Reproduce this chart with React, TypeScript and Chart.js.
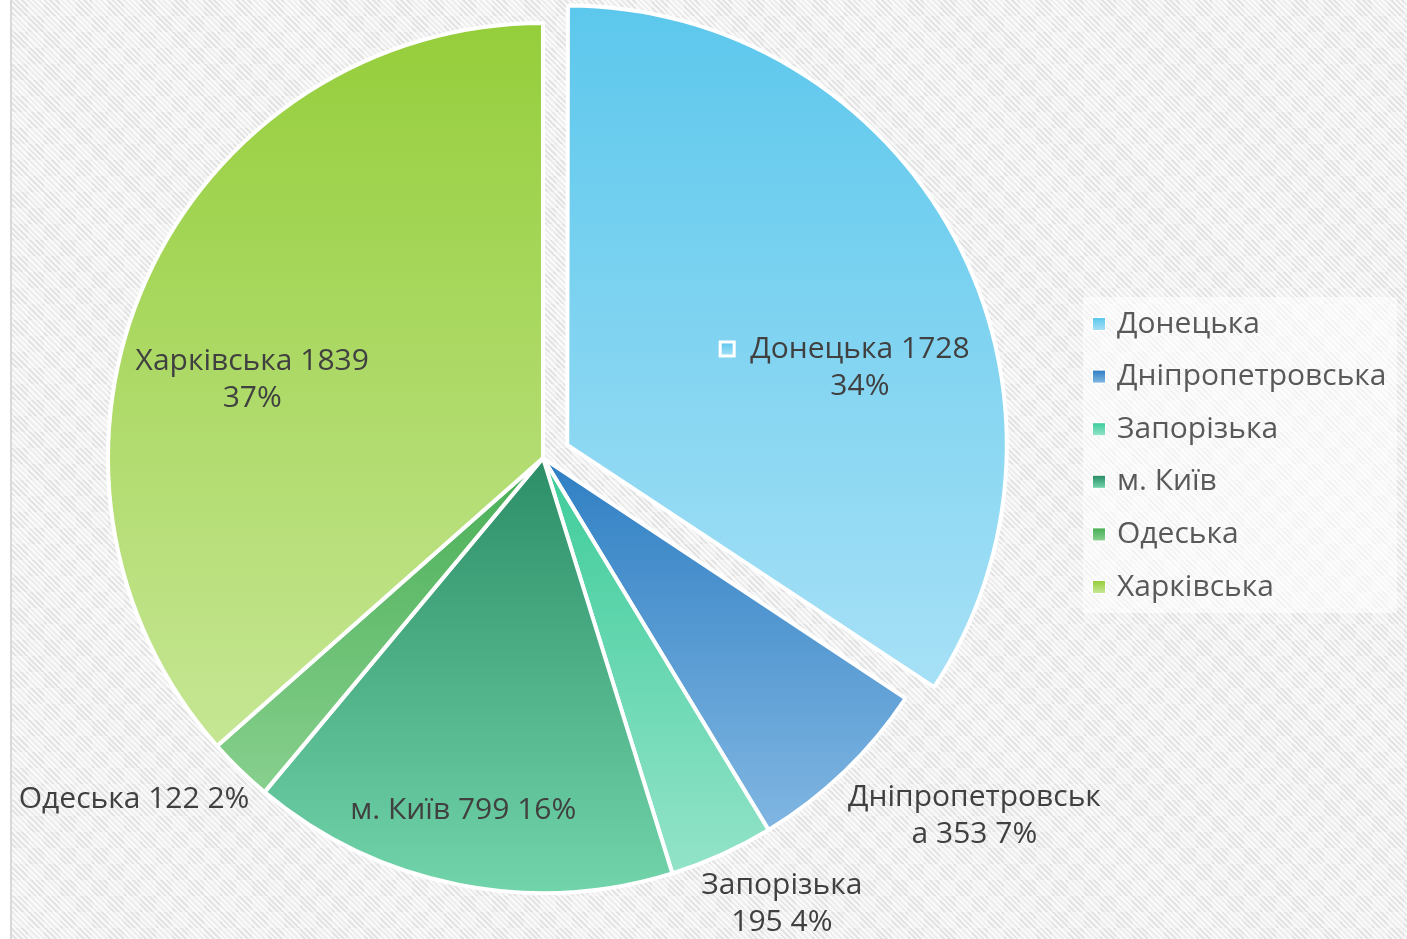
import React, { useEffect, useRef } from 'react';
import { Chart, registerables } from 'chart.js';

Chart.register(...registerables);

// ---- data ----
const categories = ['Донецька', 'Дніпропетровська', 'Запорізька', 'м. Київ', 'Одеська', 'Харківська'];
const values = [1728, 353, 195, 799, 122, 1839];
// where each data label wraps (character index), -1 = single line
const labelBreaks = [13, 15, 10, -1, -1, 15];

// ---- style ----
const topColors = ['#5BC7EC', '#2F7FC3', '#3DCC9A', '#2C8E66', '#48AE55', '#95CE3B'];
const bottomColors = ['#A5E0F6', '#80B6E2', '#93E3C8', '#72D4AA', '#88D08E', '#C6E694'];
const explodeOffsets = [110, 0, 0, 0, 0, 0];
const labelAngleShift = [13.4, -6.5, -3.9, 1.5, 6, -9.3];
const labelRadius = [0.696, 1.288, 1.163, 0.83, 1.224, 0.692];
const RADIUS = 435;
const FONT = '"Open Sans", "Noto Sans", sans-serif';

const total = values.reduce((a, b) => a + b, 0);

function sliceAngles(i: number): [number, number] {
  let cum = 0;
  for (let k = 0; k < i; k++) cum += values[k];
  const a0 = -Math.PI / 2 + (2 * Math.PI * cum) / total;
  const a1 = a0 + (2 * Math.PI * values[i]) / total;
  return [a0, a1];
}

function sliceGradient(chart: any, i: number) {
  const area = chart.chartArea;
  if (!area) return topColors[i];
  const cy = (area.top + area.bottom) / 2;
  const [a0, a1] = sliceAngles(i);
  const mid = (a0 + a1) / 2;
  const ty = cy + Math.sin(mid) * (explodeOffsets[i] / 4);
  const ys = [ty, ty + RADIUS * Math.sin(a0), ty + RADIUS * Math.sin(a1)];
  for (const k of [-Math.PI / 2, Math.PI / 2, (3 * Math.PI) / 2]) {
    if (k >= a0 - 1e-9 && k <= a1 + 1e-9) ys.push(ty + RADIUS * Math.sin(k));
  }
  const g = chart.ctx.createLinearGradient(0, Math.min(...ys), 0, Math.max(...ys));
  g.addColorStop(0, topColors[i]);
  g.addColorStop(1, bottomColors[i]);
  return g;
}

function labelLines(i: number): string[] {
  const pct = Math.round((values[i] / total) * 100);
  const s = `${categories[i]} ${values[i]} ${pct}%`;
  const b = labelBreaks[i];
  if (b < 0) return [s];
  return [s.slice(0, b).trim(), s.slice(b).trim()];
}

const labelPlugin = {
  id: 'sliceLabels',
  afterDatasetsDraw(chart: any) {
    const meta = chart.getDatasetMeta(0);
    const ctx = chart.ctx;
    ctx.save();
    ctx.font = `30px ${FONT}`;
    ctx.textAlign = 'center';
    ctx.textBaseline = 'middle';
    meta.data.forEach((arc: any, i: number) => {
      const { x, y, startAngle, endAngle, outerRadius } = arc.getProps(
        ['x', 'y', 'startAngle', 'endAngle', 'outerRadius'],
        true
      );
      const mid = (startAngle + endAngle) / 2;
      const t = explodeOffsets[i] / 4;
      const ang = mid + (labelAngleShift[i] * Math.PI) / 180;
      const ax = x + Math.cos(mid) * t + Math.cos(ang) * outerRadius * labelRadius[i];
      const ay = y + Math.sin(mid) * t + Math.sin(ang) * outerRadius * labelRadius[i];
      const lines = labelLines(i);
      const lh = 37;
      const y0 = ay - ((lines.length - 1) * lh) / 2;
      ctx.fillStyle = '#404040';
      lines.forEach((ln, k) => ctx.fillText(ln, ax, y0 + k * lh));
      if (i === 0) {
        const w = ctx.measureText(lines[0]).width;
        const mx = ax - w / 2 - 23;
        const g = ctx.createLinearGradient(0, y0 - 7, 0, y0 + 7);
        g.addColorStop(0, topColors[i]);
        g.addColorStop(1, bottomColors[i]);
        ctx.fillStyle = g;
        ctx.fillRect(mx - 7, y0 - 7, 14, 14);
        ctx.strokeStyle = '#ffffff';
        ctx.lineWidth = 3;
        ctx.strokeRect(mx - 7, y0 - 7, 14, 14);
      }
    });
    ctx.restore();
  },
};

const legendPlugin = {
  id: 'sideLegend',
  afterDraw(chart: any) {
    const ctx = chart.ctx;
    ctx.save();
    ctx.fillStyle = 'rgba(255,255,255,0.55)';
    ctx.fillRect(1083, 297, 314, 316);
    ctx.font = `30px ${FONT}`;
    ctx.textAlign = 'left';
    ctx.textBaseline = 'middle';
    categories.forEach((name, i) => {
      const cy = 324 + i * 52.6;
      const g = ctx.createLinearGradient(0, cy - 6, 0, cy + 6);
      g.addColorStop(0, topColors[i]);
      g.addColorStop(1, bottomColors[i]);
      ctx.fillStyle = '#ffffff';
      ctx.fillRect(1092, cy - 7, 14, 14);
      ctx.fillStyle = g;
      ctx.fillRect(1093, cy - 6, 12, 12);
      ctx.fillStyle = '#595959';
      ctx.fillText(name, 1117, cy);
    });
    ctx.restore();
  },
};

export default function App() {
  const ref = useRef<HTMLCanvasElement | null>(null);

  useEffect(() => {
    if (!ref.current) return;
    const chart = new Chart(ref.current, {
      type: 'pie',
      data: {
        labels: categories,
        datasets: [
          {
            data: values,
            backgroundColor: (c: any) => sliceGradient(c.chart, c.dataIndex),
            borderColor: '#ffffff',
            borderWidth: 4,
            hoverBorderWidth: 4,
            offset: explodeOffsets,
            hoverOffset: explodeOffsets,
            radius: RADIUS,
          } as any,
        ],
      },
      options: {
        responsive: false,
        maintainAspectRatio: false,
        devicePixelRatio: 1,
        animation: false,
        events: [],
        layout: { padding: { left: 91, top: 6, right: 412, bottom: 29 } },
        plugins: {
          legend: { display: false },
          tooltip: { enabled: false },
        },
      } as any,
      plugins: [labelPlugin, legendPlugin],
    });
    return () => chart.destroy();
  }, []);

  return (
    <div
      style={{
        position: 'absolute',
        left: 0,
        top: 0,
        width: 1407,
        height: 939,
        background: '#ffffff',
        overflow: 'hidden',
      }}
    >
      <div
        style={{
          position: 'absolute',
          left: 10,
          top: 0,
          width: 1397,
          height: 939,
          borderLeft: '2px solid #d9d9d9',
          boxSizing: 'border-box',
          backgroundColor: '#ececec',
          backgroundImage:
            'conic-gradient(rgba(255,255,255,0.35) 25%, rgba(255,255,255,0) 0 50%, rgba(255,255,255,0.35) 0 75%, rgba(255,255,255,0) 0), repeating-linear-gradient(45deg, #f8f8f8 0px, #f8f8f8 2px, #e4e4e4 2px, #e4e4e4 4px)',
          backgroundSize: '32px 32px, auto',
        }}
      />
      <canvas
        ref={ref}
        width={1407}
        height={939}
        style={{ position: 'absolute', left: 0, top: 0, display: 'block' }}
      />
    </div>
  );
}
